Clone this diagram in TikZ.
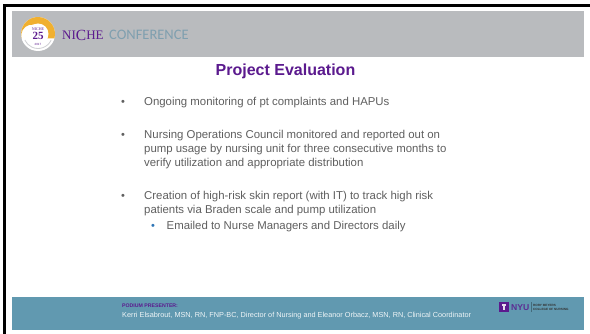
\documentclass[tikz,border=0pt]{standalone}
\usepackage{fontspec}
\setmainfont{Liberation Sans}
\newfontfamily\serifpart{Liberation Serif}
\newfontfamily\confpart{Carlito}
\definecolor{band}{HTML}{6199B0}
\definecolor{hdr}{HTML}{B9BBBE}
\definecolor{purp}{HTML}{5B1A8E}
\definecolor{body}{HTML}{5F5F5F}
\definecolor{teal}{HTML}{7F9FAF}
\definecolor{gold}{HTML}{F0B030}
\definecolor{blt}{HTML}{2E75B6}
\tikzset{
 x=1pt,y=-1pt,
 txt/.style={anchor=base west,inner sep=0pt,text=body,font=\fontsize{11.4}{12}\selectfont},
 bul/.style={anchor=base,inner sep=0pt,text=body,font=\fontsize{11}{12}\selectfont},
 tiny/.style={anchor=west,align=left,inner sep=0pt,text=black!80,font=\bfseries\fontsize{3.1}{4}\selectfont},
}
\begin{document}
\begin{tikzpicture}
\useasboundingbox (0,0) rectangle (590,334);
\fill[white] (0,0) rectangle (590,334);
\fill[black] (3,4) rectangle (590,7);
\fill[black] (3,4) rectangle (6,334);
\fill[hdr] (12,11) rectangle (584,57);
\fill[band] (12,297) rectangle (584,330);
% logo
\fill[white] (38,34) circle (17);
\fill[gold] (38,34) ++(15:17) arc (15:-195:17) -- ++(0:0) arc (-195:15:11) -- cycle;
\fill[white] (38,34) circle (10.5);
\draw[hdr!70!white,line width=0.8pt] (38,34) ++(25:14.5) arc (25:155:14.5);
\node[inner sep=0pt,text=purp,font=\serifpart\bfseries\fontsize{11}{11}\selectfont] (n25) at (38,36) {25};
\node[inner sep=0pt,text=purp,font=\serifpart\fontsize{4}{4}\selectfont] (nsm) at (38,29) {NICHE};
\node[inner sep=0pt,text=purp,font=\fontsize{3}{3}\selectfont] (yr) at (38,44.5) {2017};
\node[anchor=base west,inner sep=0pt,text=purp,font=\serifpart\fontsize{13}{13}\selectfont] (niche) at (62,39.5) {NI\raisebox{-0.6pt}{\fontsize{15.5}{15}\selectfont C}HE};
\node[anchor=base west,inner sep=0pt,text=teal,font=\confpart\fontsize{14.5}{15}\selectfont] (conf) at (109,39.5) {CONFERENCE};
\node[inner sep=0pt,text=purp,font=\bfseries\fontsize{16}{17}\selectfont] (title) at (285.5,71) {Project Evaluation};
\node[bul] (b1) at (123,106) {•};
\node[txt] (t1) at (144,106) {Ongoing monitoring of pt complaints and HAPUs};
\node[bul] (b2) at (123,139) {•};
\node[txt] (t2a) at (144,139) {Nursing Operations Council monitored and reported out on};
\node[txt] (t2b) at (144,153) {pump usage by nursing unit for three consecutive months to};
\node[txt] (t2c) at (144,167) {verify utilization and appropriate distribution};
\node[bul] (b3) at (123,200) {•};
\node[txt] (t3a) at (144,200) {Creation of high-risk skin report (with IT) to track high risk};
\node[txt] (t3b) at (144,214) {patients via Braden scale and pump utilization};
\node[bul,text=blt] (b4) at (153,230) {•};
\node[txt] (t4) at (166.5,230) {Emailed to Nurse Managers and Directors daily};
\node[anchor=base west,inner sep=0pt,text=purp,font=\bfseries\fontsize{5.2}{6}\selectfont] (pp) at (122,307.6) {PODIUM PRESENTER:};
\node[anchor=base west,inner sep=0pt,text=white!90!band,font=\fontsize{7.3}{8}\selectfont] (names) at (122,318) {Kerri Elsabrout, MSN, RN, FNP-BC, Director of Nursing and Eleanor Orbacz, MSN, RN, Clinical Coordinator};
% NYU logo
\fill[purp] (499,302) rectangle (509,312);
\fill[white!85!purp] (503.3,305) rectangle (504.7,310);
\fill[white!85!purp] (501.8,304.5) rectangle (506.2,306.5);
\node[anchor=base west,inner sep=0pt,text=purp!85!band,font=\bfseries\fontsize{8.6}{9}\selectfont] (nyu) at (511,310.6) {NYU};
\fill[band!70!black] (531,302) rectangle (531.6,312);
\node[tiny] (r1) at (533,307) {RORY MEYERS\\COLLEGE OF NURSING};
\end{tikzpicture}
\end{document}
